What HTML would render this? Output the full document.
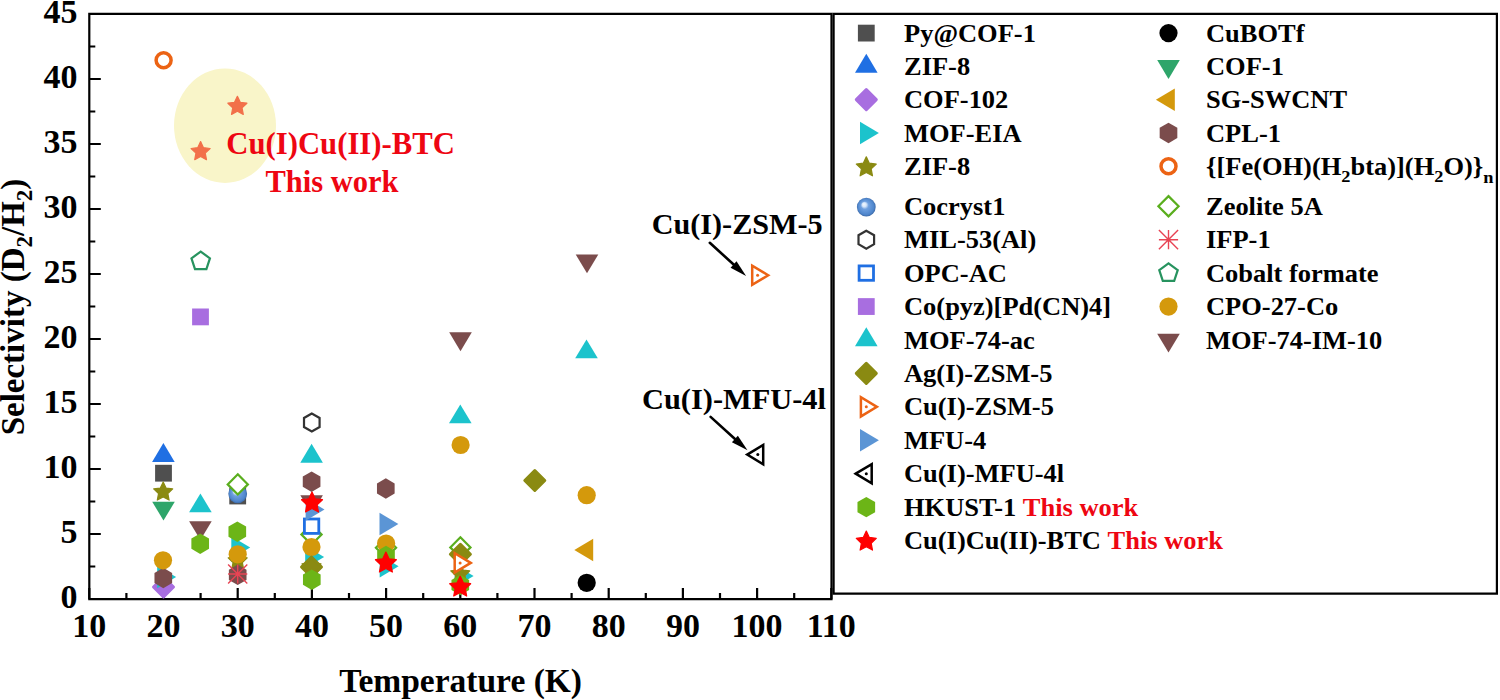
<!DOCTYPE html><html><head><meta charset="utf-8"><style>html,body{margin:0;padding:0;background:#fff;width:1500px;height:700px;overflow:hidden}svg{display:block}text{font-family:"Liberation Serif",serif;font-weight:bold}</style></head><body>
<svg width="1500" height="700" viewBox="0 0 1500 700">
<defs><radialGradient id="sph" cx="0.5" cy="0.5" r="0.5" fx="0.36" fy="0.34"><stop offset="0" stop-color="#f4f8ff"/><stop offset="0.22" stop-color="#d6e6fa"/><stop offset="0.42" stop-color="#6fa0e0"/><stop offset="0.85" stop-color="#4f86cc"/><stop offset="1" stop-color="#3d6aa8"/></radialGradient></defs>
<rect width="1500" height="700" fill="#fff"/>
<ellipse cx="225" cy="125.7" rx="51" ry="57.2" fill="#f9f5c9"/>
<path d="M89.3,13.9V599.1H831.5V13.9H89.3z" fill="none" stroke="#000" stroke-width="2.2"/>
<path d="M89.3,599.00h11.5M89.3,534.00h11.5M89.3,469.00h11.5M89.3,404.00h11.5M89.3,339.00h11.5M89.3,274.00h11.5M89.3,209.00h11.5M89.3,144.00h11.5M89.3,79.00h11.5M89.3,14.00h11.5M89.3,566.50h6M89.3,501.50h6M89.3,436.50h6M89.3,371.50h6M89.3,306.50h6M89.3,241.50h6M89.3,176.50h6M89.3,111.50h6M89.3,46.50h6M89.30,599.1v-11M163.50,599.1v-11M237.70,599.1v-11M311.90,599.1v-11M386.10,599.1v-11M460.30,599.1v-11M534.50,599.1v-11M608.70,599.1v-11M682.90,599.1v-11M757.10,599.1v-11M831.30,599.1v-11M126.40,599.1v-6M200.60,599.1v-6M274.80,599.1v-6M349.00,599.1v-6M423.20,599.1v-6M497.40,599.1v-6M571.60,599.1v-6M645.80,599.1v-6M720.00,599.1v-6M794.20,599.1v-6" stroke="#000" stroke-width="2.2" fill="none"/>
<rect x="155.10" y="464.80" width="16.80" height="16.80" fill="#4f4f4f"/>
<rect x="229.30" y="487.60" width="16.80" height="16.80" fill="#4f4f4f"/>
<circle cx="586.70" cy="582.80" r="9.10" fill="#000000"/>
<polygon points="163.40,443.00 174.70,461.90 152.10,461.90" fill="#1f6fe3"/>
<polygon points="163.50,520.60 174.80,501.70 152.20,501.70" fill="#2ea56a"/>
<polygon points="163.50,577.00 173.50,587.00 163.50,597.00 153.50,587.00" fill="#a86ee0" stroke="#a86ee0" stroke-width="3" stroke-linejoin="round"/>
<polygon points="574.30,550.00 593.20,538.70 593.20,561.30" fill="#d4990c"/>
<polygon points="176.10,577.00 157.20,565.70 157.20,588.30" fill="#1cc3cc"/>
<polygon points="250.20,547.50 231.30,536.20 231.30,558.80" fill="#1cc3cc"/>
<polygon points="324.10,557.00 305.20,545.70 305.20,568.30" fill="#1cc3cc"/>
<polygon points="398.60,566.30 379.70,555.00 379.70,577.60" fill="#1cc3cc"/>
<polygon points="473.60,576.00 454.70,564.70 454.70,587.30" fill="#1cc3cc"/>
<polygon points="237.70,551.00 234.82,557.04 228.19,557.91 233.04,562.51 231.82,569.09 237.70,565.90 243.58,569.09 242.36,562.51 247.21,557.91 240.58,557.04" fill="#8a8a12" stroke="#8a8a12" stroke-width="1.2" stroke-linejoin="round"/>
<polygon points="163.30,567.80 154.47,572.90 154.47,583.10 163.30,588.20 172.13,583.10 172.13,572.90" fill="#7b4c4c"/>
<polygon points="237.70,564.60 228.87,569.70 228.87,579.90 237.70,585.00 246.53,579.90 246.53,569.70" fill="#7b4c4c"/>
<polygon points="311.60,471.50 302.77,476.60 302.77,486.80 311.60,491.90 320.43,486.80 320.43,476.60" fill="#7b4c4c"/>
<polygon points="385.80,478.30 376.97,483.40 376.97,493.60 385.80,498.70 394.63,493.60 394.63,483.40" fill="#7b4c4c"/>
<polygon points="163.20,482.00 160.32,488.04 153.69,488.91 158.54,493.51 157.32,500.09 163.20,496.90 169.08,500.09 167.86,493.51 172.71,488.91 166.08,488.04" fill="#8a8a12" stroke="#8a8a12" stroke-width="1.2" stroke-linejoin="round"/>
<polygon points="311.50,557.00 308.62,563.04 301.99,563.91 306.84,568.51 305.62,575.09 311.50,571.90 317.38,575.09 316.16,568.51 321.01,563.91 314.38,563.04" fill="#8a8a12" stroke="#8a8a12" stroke-width="1.2" stroke-linejoin="round"/>
<polygon points="460.30,564.00 457.42,570.04 450.79,570.91 455.64,575.51 454.42,582.09 460.30,578.90 466.18,582.09 464.96,575.51 469.81,570.91 463.18,570.04" fill="#8a8a12" stroke="#8a8a12" stroke-width="1.2" stroke-linejoin="round"/>
<circle cx="163.60" cy="60.30" r="7.50" fill="#ffffff" stroke="#ec6314" stroke-width="3.5"/>
<circle cx="237.70" cy="493.80" r="9.40" fill="url(#sph)"/>
<polygon points="237.80,474.30 247.90,484.40 237.80,494.50 227.70,484.40" fill="#ffffff" stroke="#5aae1e" stroke-width="2.2" stroke-linejoin="miter"/>
<polygon points="311.50,524.40 321.60,534.50 311.50,544.60 301.40,534.50" fill="#ffffff" stroke="#5aae1e" stroke-width="2.2" stroke-linejoin="miter"/>
<polygon points="386.00,537.60 396.10,547.70 386.00,557.80 375.90,547.70" fill="#ffffff" stroke="#5aae1e" stroke-width="2.2" stroke-linejoin="miter"/>
<polygon points="460.40,537.30 470.50,547.40 460.40,557.50 450.30,547.40" fill="#ffffff" stroke="#5aae1e" stroke-width="2.2" stroke-linejoin="miter"/>
<polygon points="311.80,413.50 304.01,418.00 304.01,427.00 311.80,431.50 319.59,427.00 319.59,418.00" fill="#ffffff" stroke="#333333" stroke-width="2.2" stroke-linejoin="miter"/>
<path d="M228.10,574.00H247.30M237.70,564.40V583.60M228.10,564.40L247.30,583.60M228.10,583.60L247.30,564.40" stroke="#e84454" stroke-width="1.4" fill="none"/><circle cx="237.70" cy="574.00" r="1.8" fill="#e84454"/>
<rect x="304.40" y="519.00" width="14.40" height="14.40" fill="#ffffff" stroke="#1f6fe3" stroke-width="2.8"/>
<polygon points="200.70,251.60 191.47,258.30 195.00,269.15 206.40,269.15 209.93,258.30" fill="#ffffff" stroke="#27935f" stroke-width="2.2" stroke-linejoin="miter"/>
<rect x="192.10" y="308.50" width="16.80" height="16.80" fill="#a86ee0"/>
<circle cx="163.00" cy="560.30" r="9.10" fill="#d4990c"/>
<circle cx="237.70" cy="554.30" r="9.10" fill="#d4990c"/>
<circle cx="311.50" cy="547.00" r="9.10" fill="#d4990c"/>
<circle cx="386.10" cy="543.50" r="9.10" fill="#d4990c"/>
<circle cx="460.60" cy="445.00" r="9.10" fill="#d4990c"/>
<circle cx="586.70" cy="495.20" r="9.10" fill="#d4990c"/>
<polygon points="200.40,493.40 211.70,512.30 189.10,512.30" fill="#1cc3cc"/>
<polygon points="311.60,443.80 322.90,462.70 300.30,462.70" fill="#1cc3cc"/>
<polygon points="460.30,404.40 471.60,423.30 449.00,423.30" fill="#1cc3cc"/>
<polygon points="586.50,339.40 597.80,358.30 575.20,358.30" fill="#1cc3cc"/>
<polygon points="200.40,540.10 211.70,521.20 189.10,521.20" fill="#7b4c4c"/>
<polygon points="311.60,514.10 322.90,495.20 300.30,495.20" fill="#7b4c4c"/>
<polygon points="460.50,351.20 471.80,332.30 449.20,332.30" fill="#7b4c4c"/>
<polygon points="587.00,273.30 598.30,254.40 575.70,254.40" fill="#7b4c4c"/>
<polygon points="311.50,557.00 321.50,567.00 311.50,577.00 301.50,567.00" fill="#8a8a12" stroke="#8a8a12" stroke-width="3" stroke-linejoin="round"/>
<polygon points="460.40,544.30 470.40,554.30 460.40,564.30 450.40,554.30" fill="#8a8a12" stroke="#8a8a12" stroke-width="3" stroke-linejoin="round"/>
<polygon points="534.80,470.50 544.80,480.50 534.80,490.50 524.80,480.50" fill="#8a8a12" stroke="#8a8a12" stroke-width="3" stroke-linejoin="round"/>
<polygon points="470.70,562.90 454.70,553.30 454.70,572.50" fill="#ffffff" stroke="#ec6314" stroke-width="2.5"/><circle cx="460.10" cy="562.90" r="1.5" fill="#ec6314"/>
<polygon points="768.20,275.30 752.20,265.70 752.20,284.90" fill="#ffffff" stroke="#ec6314" stroke-width="2.5"/><circle cx="757.60" cy="275.30" r="1.5" fill="#ec6314"/>
<polygon points="324.50,509.50 305.60,498.20 305.60,520.80" fill="#5b95d5"/>
<polygon points="398.40,524.00 379.50,512.70 379.50,535.30" fill="#5b95d5"/>
<polygon points="747.20,454.60 763.20,445.00 763.20,464.20" fill="#ffffff" stroke="#000000" stroke-width="2.5"/><circle cx="757.80" cy="454.60" r="1.5" fill="#000000"/>
<polygon points="200.20,533.50 191.37,538.60 191.37,548.80 200.20,553.90 209.03,548.80 209.03,538.60" fill="#6cb517"/>
<polygon points="237.30,521.50 228.47,526.60 228.47,536.80 237.30,541.90 246.13,536.80 246.13,526.60" fill="#6cb517"/>
<polygon points="311.80,569.50 302.97,574.60 302.97,584.80 311.80,589.90 320.63,584.80 320.63,574.60" fill="#6cb517"/>
<polygon points="386.00,545.80 377.17,550.90 377.17,561.10 386.00,566.20 394.83,561.10 394.83,550.90" fill="#6cb517"/>
<polygon points="460.30,574.80 451.47,579.90 451.47,590.10 460.30,595.20 469.13,590.10 469.13,579.90" fill="#6cb517"/>
<polygon points="312.00,492.10 308.83,498.74 301.54,499.70 306.87,504.77 305.53,512.00 312.00,508.49 318.47,512.00 317.13,504.77 322.46,499.70 315.17,498.74" fill="#ff0000" stroke="#ff0000" stroke-width="1.2" stroke-linejoin="round"/>
<polygon points="385.90,552.10 382.73,558.74 375.44,559.70 380.77,564.77 379.43,572.00 385.90,568.49 392.37,572.00 391.03,564.77 396.36,559.70 389.07,558.74" fill="#ff0000" stroke="#ff0000" stroke-width="1.2" stroke-linejoin="round"/>
<polygon points="460.20,576.10 457.03,582.74 449.74,583.70 455.07,588.77 453.73,596.00 460.20,592.49 466.67,596.00 465.33,588.77 470.66,583.70 463.37,582.74" fill="#ff0000" stroke="#ff0000" stroke-width="1.2" stroke-linejoin="round"/>
<polygon points="237.40,96.30 234.52,102.34 227.89,103.21 232.74,107.81 231.52,114.39 237.40,111.20 243.28,114.39 242.06,107.81 246.91,103.21 240.28,102.34" fill="#f2704a" stroke="#f2704a" stroke-width="1.2" stroke-linejoin="round"/>
<polygon points="200.60,141.60 197.72,147.64 191.09,148.51 195.94,153.11 194.72,159.69 200.60,156.50 206.48,159.69 205.26,153.11 210.11,148.51 203.48,147.64" fill="#f2704a" stroke="#f2704a" stroke-width="1.2" stroke-linejoin="round"/>
<text x="77.5" y="608.2" font-size="34" text-anchor="end">0</text>
<text x="77.5" y="543.2" font-size="34" text-anchor="end">5</text>
<text x="77.5" y="478.2" font-size="34" text-anchor="end">10</text>
<text x="77.5" y="413.2" font-size="34" text-anchor="end">15</text>
<text x="77.5" y="348.2" font-size="34" text-anchor="end">20</text>
<text x="77.5" y="283.2" font-size="34" text-anchor="end">25</text>
<text x="77.5" y="218.2" font-size="34" text-anchor="end">30</text>
<text x="77.5" y="153.2" font-size="34" text-anchor="end">35</text>
<text x="77.5" y="88.2" font-size="34" text-anchor="end">40</text>
<text x="77.5" y="23.2" font-size="34" text-anchor="end">45</text>
<text x="89.3" y="636.7" font-size="34" text-anchor="middle">10</text>
<text x="163.5" y="636.7" font-size="34" text-anchor="middle">20</text>
<text x="237.7" y="636.7" font-size="34" text-anchor="middle">30</text>
<text x="311.9" y="636.7" font-size="34" text-anchor="middle">40</text>
<text x="386.1" y="636.7" font-size="34" text-anchor="middle">50</text>
<text x="460.3" y="636.7" font-size="34" text-anchor="middle">60</text>
<text x="534.5" y="636.7" font-size="34" text-anchor="middle">70</text>
<text x="608.7" y="636.7" font-size="34" text-anchor="middle">80</text>
<text x="682.9" y="636.7" font-size="34" text-anchor="middle">90</text>
<text x="757.1" y="636.7" font-size="34" text-anchor="middle">100</text>
<text x="831.3" y="636.7" font-size="34" text-anchor="middle">110</text>
<text x="460.6" y="692.3" font-size="33.5" text-anchor="middle">Temperature (K)</text>
<text transform="translate(24,307) rotate(-90)" font-size="33" text-anchor="middle">Selectivity (D<tspan font-size="23" dy="7.5">2</tspan><tspan dy="-7.5">/H</tspan><tspan font-size="23" dy="7.5">2</tspan><tspan dy="-7.5">)</tspan></text>
<text x="340.6" y="154.4" font-size="30.7" text-anchor="middle" fill="#ee0612">Cu(I)Cu(II)-BTC</text>
<text x="332" y="192" font-size="30.5" text-anchor="middle" fill="#ee0612">This work</text>
<text x="737.2" y="234.3" font-size="30.2" text-anchor="middle">Cu(I)-ZSM-5</text>
<text x="734" y="408.6" font-size="30.4" text-anchor="middle">Cu(I)-MFU-4l</text>
<path d="M709.8,242.8L735.02,265.79" stroke="#000" stroke-width="2.6" stroke-linecap="round"/>
<polygon points="746.1,275.9 730.57,267.70 736.50,261.19" fill="#000"/>
<path d="M710.6,416.9L736.38,440.23" stroke="#000" stroke-width="2.6" stroke-linecap="round"/>
<polygon points="747.5,450.3 731.94,442.15 737.85,435.63" fill="#000"/>
<path d="M833.6,13.9H1496.9V593.6H833.6z" fill="none" stroke="#000" stroke-width="2.2"/>
<rect x="857.90" y="24.70" width="16.80" height="16.80" fill="#4f4f4f"/>
<text transform="translate(904,41.6) scale(1.05,1)" font-size="25.2">Py@COF-1</text>
<polygon points="866.30,53.79 877.60,72.69 855.00,72.69" fill="#1f6fe3"/>
<text transform="translate(904,74.9) scale(1.05,1)" font-size="25.2">ZIF-8</text>
<polygon points="866.30,89.68 876.30,99.68 866.30,109.68 856.30,99.68" fill="#a86ee0" stroke="#a86ee0" stroke-width="3" stroke-linejoin="round"/>
<text transform="translate(904,108.2) scale(1.05,1)" font-size="25.2">COF-102</text>
<polygon points="878.90,132.97 860.00,121.67 860.00,144.27" fill="#1cc3cc"/>
<text transform="translate(904,141.5) scale(1.05,1)" font-size="25.2">MOF-EIA</text>
<polygon points="866.30,156.81 863.28,163.15 856.31,164.07 861.41,168.90 860.13,175.80 866.30,172.46 872.47,175.80 871.19,168.90 876.29,164.07 869.32,163.15" fill="#8a8a12" stroke="#8a8a12" stroke-width="1.2" stroke-linejoin="round"/>
<text transform="translate(904,174.8) scale(1.05,1)" font-size="25.2">ZIF-8</text>
<circle cx="866.30" cy="207.05" r="9.40" fill="url(#sph)"/>
<text transform="translate(904,214.8) scale(1.05,1)" font-size="25.2">Cocryst1</text>
<polygon points="866.30,230.68 858.51,235.18 858.51,244.18 866.30,248.68 874.09,244.18 874.09,235.18" fill="#fff" stroke="#333333" stroke-width="2.2" stroke-linejoin="miter"/>
<text transform="translate(904,248.2) scale(1.05,1)" font-size="25.2">MIL-53(Al)</text>
<rect x="859.10" y="265.91" width="14.40" height="14.40" fill="#fff" stroke="#1f6fe3" stroke-width="2.8"/>
<text transform="translate(904,281.6) scale(1.05,1)" font-size="25.2">OPC-AC</text>
<rect x="857.90" y="298.14" width="16.80" height="16.80" fill="#a86ee0"/>
<text transform="translate(904,315.0) scale(1.05,1)" font-size="25.2">Co(pyz)[Pd(CN)4]</text>
<polygon points="866.30,327.37 877.60,346.27 855.00,346.27" fill="#1cc3cc"/>
<text transform="translate(904,348.5) scale(1.05,1)" font-size="25.2">MOF-74-ac</text>
<polygon points="866.30,363.40 876.30,373.40 866.30,383.40 856.30,373.40" fill="#8a8a12" stroke="#8a8a12" stroke-width="3" stroke-linejoin="round"/>
<text transform="translate(904,381.9) scale(1.05,1)" font-size="25.2">Ag(I)-ZSM-5</text>
<polygon points="876.90,406.83 860.90,397.23 860.90,416.43" fill="#fff" stroke="#ec6314" stroke-width="2.5"/><circle cx="866.30" cy="406.83" r="1.5" fill="#ec6314"/>
<text transform="translate(904,415.3) scale(1.05,1)" font-size="25.2">Cu(I)-ZSM-5</text>
<polygon points="878.90,440.26 860.00,428.96 860.00,451.56" fill="#5b95d5"/>
<text transform="translate(904,448.8) scale(1.05,1)" font-size="25.2">MFU-4</text>
<polygon points="855.70,473.69 871.70,464.09 871.70,483.29" fill="#fff" stroke="#000000" stroke-width="2.5"/><circle cx="866.30" cy="473.69" r="1.5" fill="#000000"/>
<text transform="translate(904,482.2) scale(1.05,1)" font-size="25.2">Cu(I)-MFU-4l</text>
<polygon points="866.30,496.92 857.47,502.02 857.47,512.22 866.30,517.32 875.13,512.22 875.13,502.02" fill="#6cb517"/>
<text transform="translate(904,515.6) scale(1.05,1)" font-size="25.2">HKUST-1 <tspan fill="#ee0612">This work</tspan></text>
<polygon points="866.30,531.10 863.28,537.44 856.31,538.36 861.41,543.19 860.13,550.09 866.30,546.74 872.47,550.09 871.19,543.19 876.29,538.36 869.32,537.44" fill="#ff0000" stroke="#ff0000" stroke-width="1.2" stroke-linejoin="round"/>
<text transform="translate(904,549.0) scale(1.05,1)" font-size="25.2">Cu(I)Cu(II)-BTC <tspan fill="#ee0612">This work</tspan></text>
<circle cx="1168.50" cy="33.10" r="9.10" fill="#000000"/>
<text transform="translate(1206,41.6) scale(1.05,1)" font-size="25.2">CuBOTf</text>
<polygon points="1168.50,78.99 1179.80,60.09 1157.20,60.09" fill="#2ea56a"/>
<text transform="translate(1206,74.9) scale(1.05,1)" font-size="25.2">COF-1</text>
<polygon points="1155.90,99.68 1174.80,88.38 1174.80,110.98" fill="#d4990c"/>
<text transform="translate(1206,108.2) scale(1.05,1)" font-size="25.2">SG-SWCNT</text>
<polygon points="1168.50,122.77 1159.67,127.87 1159.67,138.07 1168.50,143.17 1177.33,138.07 1177.33,127.87" fill="#7b4c4c"/>
<text transform="translate(1206,141.5) scale(1.05,1)" font-size="25.2">CPL-1</text>
<circle cx="1168.50" cy="166.26" r="7.50" fill="#fff" stroke="#ec6314" stroke-width="3.5"/>
<text transform="translate(1206,174.8) scale(1.05,1)" font-size="25.2">{[Fe(OH)(H<tspan font-size="17.5" dy="7">2</tspan><tspan dy="-7">bta)](H</tspan><tspan font-size="17.5" dy="7">2</tspan><tspan dy="-7">O)}</tspan><tspan font-size="17.5" dy="8">n</tspan></text>
<polygon points="1168.50,196.15 1178.60,206.25 1168.50,216.35 1158.40,206.25" fill="#fff" stroke="#5aae1e" stroke-width="2.2" stroke-linejoin="miter"/>
<text transform="translate(1206,214.8) scale(1.05,1)" font-size="25.2">Zeolite 5A</text>
<path d="M1158.90,239.68H1178.10M1168.50,230.08V249.28M1158.90,230.08L1178.10,249.28M1158.90,249.28L1178.10,230.08" stroke="#e84454" stroke-width="1.4" fill="none"/><circle cx="1168.50" cy="239.68" r="1.8" fill="#e84454"/>
<text transform="translate(1206,248.2) scale(1.05,1)" font-size="25.2">IFP-1</text>
<polygon points="1168.50,263.41 1159.27,270.11 1162.80,280.96 1174.20,280.96 1177.73,270.11" fill="#fff" stroke="#27935f" stroke-width="2.2" stroke-linejoin="miter"/>
<text transform="translate(1206,281.6) scale(1.05,1)" font-size="25.2">Cobalt formate</text>
<circle cx="1168.50" cy="306.54" r="9.10" fill="#d4990c"/>
<text transform="translate(1206,315.0) scale(1.05,1)" font-size="25.2">CPO-27-Co</text>
<polygon points="1168.50,352.57 1179.80,333.67 1157.20,333.67" fill="#7b4c4c"/>
<text transform="translate(1206,348.5) scale(1.05,1)" font-size="25.2">MOF-74-IM-10</text>
</svg></body></html>
